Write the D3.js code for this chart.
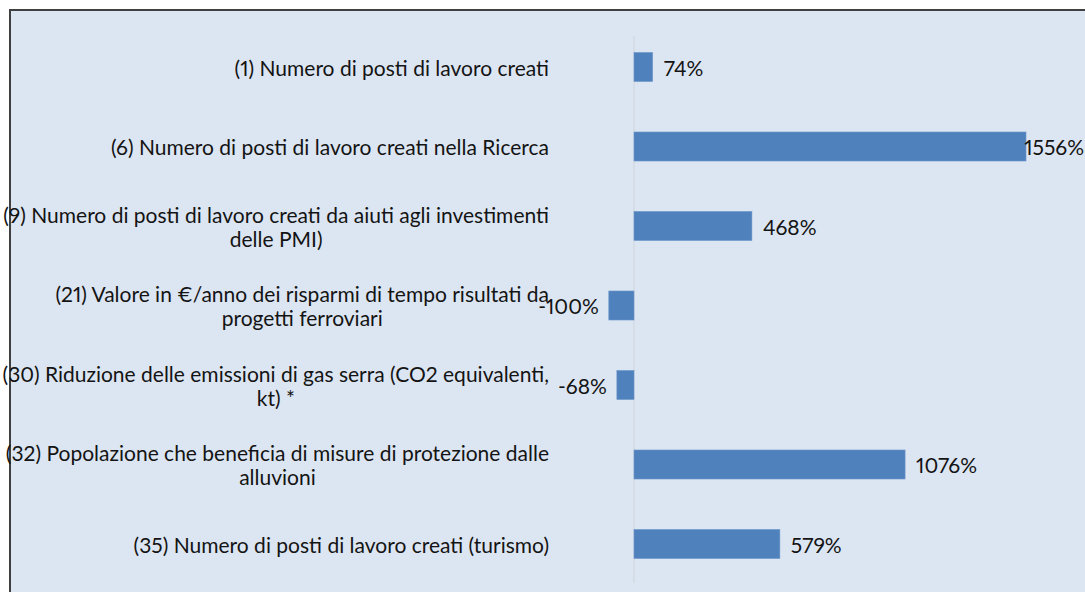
<!DOCTYPE html>
<html>
<head>
<meta charset="utf-8">
<script src="https://cdn.jsdelivr.net/npm/d3@7"></script>
<style>
  html, body { margin: 0; padding: 0; background: #ffffff; }
  svg { display: block; }
  text { font-variant-numeric: proportional-nums; }
</style>
</head>
<body>
<svg id="chart" width="1085" height="592"></svg>
<script>
// ---- data ----
const categories = [
  ["(1) Numero di posti di lavoro creati"],
  ["(6) Numero di posti di lavoro creati nella Ricerca"],
  ["(9) Numero di posti di lavoro creati da aiuti agli investimenti", "delle PMI)"],
  ["(21) Valore in €/anno dei risparmi di tempo risultati da", "progetti ferroviari"],
  ["(30) Riduzione delle emissioni di gas serra (CO2 equivalenti,", "kt) *"],
  ["(32) Popolazione che beneficia di misure di protezione dalle", "alluvioni"],
  ["(35) Numero di posti di lavoro creati (turismo)"]
];
const values = [74, 1556, 468, -100, -68, 1076, 579];
const valueLabels = ["74%", "1556%", "468%", "-100%", "-68%", "1076%", "579%"];

// ---- layout ----
const W = 1085, H = 592;
const svg = d3.select("#chart");
const FONT = "Lato, 'Open Sans', sans-serif";
const textColor = "#141414";

// chart area background with frame
svg.append("rect").attr("x", 10).attr("y", 10).attr("width", W + 20).attr("height", H + 20)
  .attr("fill", "#dce6f2").attr("stroke", "#404040").attr("stroke-width", 2);

const idx = categories.map((d, i) => i);
const x = d3.scaleLinear().domain([0, 1556]).range([634, 1026]);
const y = d3.scaleBand().domain(idx).range([27.25, 583.75]).paddingInner(0.635).paddingOuter(0.3175);

// zero axis line
svg.append("line").attr("x1", x(0)).attr("x2", x(0)).attr("y1", 36).attr("y2", 583)
  .attr("stroke", "#cfd4da").attr("stroke-width", 1);

// bars
svg.selectAll("rect.bar").data(values).join("rect").attr("class", "bar")
  .attr("x", d => x(Math.min(0, d)))
  .attr("width", d => Math.abs(x(d) - x(0)))
  .attr("y", (d, i) => y(i))
  .attr("height", y.bandwidth())
  .attr("fill", "#4f81bd")
  .attr("stroke", "#6d95c9").attr("stroke-width", 0.6);

// determine font size so that first label measures ~326px
const probe = svg.append("text").attr("font-family", FONT).attr("font-size", 20).text(categories[0][0]);
const w20 = probe.node().getComputedTextLength();
probe.remove();
const fs = Math.min(21, 20 * 326 / w20);

// category labels: block right-aligned, lines centred within block
const lineH = 24;
const labelRight = 549;
categories.forEach((lines, i) => {
  const g = svg.append("g");
  const texts = lines.map(l => g.append("text").attr("font-family", FONT).attr("font-size", fs)
    .attr("fill", textColor).attr("text-anchor", "middle").attr("dominant-baseline", "central").text(l));
  const maxW = d3.max(texts, t => t.node().getComputedTextLength());
  const cx = labelRight - maxW / 2;
  const cy = y(i) + y.bandwidth() / 2;
  texts.forEach((t, j) => {
    t.attr("x", cx).attr("y", cy + (j - (lines.length - 1) / 2) * lineH);
  });
});

// value labels
values.forEach((v, i) => {
  const t = svg.append("text").attr("font-family", FONT).attr("font-size", fs)
    .attr("fill", textColor).attr("dominant-baseline", "central")
    .attr("y", y(i) + y.bandwidth() / 2).text(valueLabels[i]);
  const tw = t.node().getComputedTextLength();
  if (v >= 0) {
    let tx = x(v) + 11;
    if (tx + tw > W - 1) tx = W - 1 - tw;
    t.attr("x", tx).attr("text-anchor", "start");
  } else {
    t.attr("x", x(v) - 10).attr("text-anchor", "end");
  }
});
</script>
</body>
</html>
